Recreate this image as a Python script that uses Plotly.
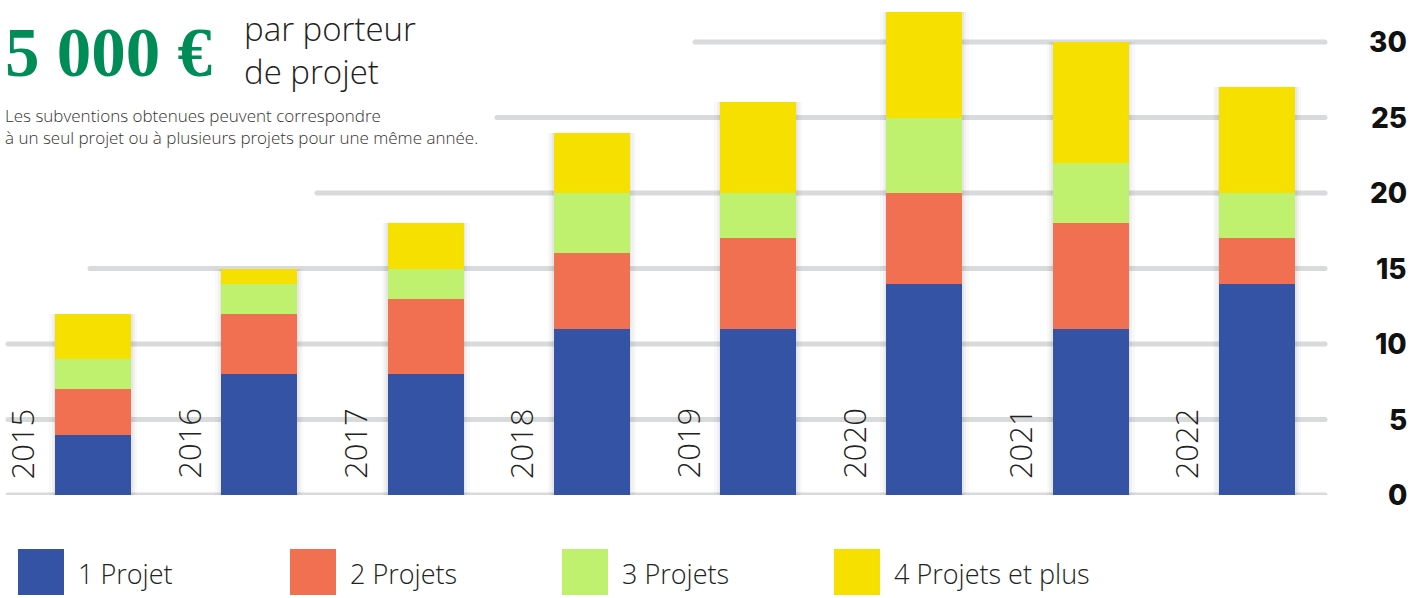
import plotly.graph_objects as go

# ---- data ----
years = ["2015", "2016", "2017", "2018", "2019", "2020", "2021", "2022"]
series_names = ["1 Projet", "2 Projets", "3 Projets", "4 Projets et plus"]
one_project = [4, 8, 8, 11, 11, 14, 11, 14]
two_projects = [3, 4, 5, 5, 6, 6, 7, 3]
three_projects = [2, 2, 2, 4, 3, 5, 4, 3]
four_plus = [3, 1, 3, 4, 6, 7, 8, 7]
y_ticks = [0, 5, 10, 15, 20, 25, 30]

colors = ["#3453a5", "#f27052", "#bff06e", "#f5e000"]
series_values = [one_project, two_projects, three_projects, four_plus]

W, H = 1424, 598
X0_PX, X1_PX = 9.85, 1340.0      # plot area horizontal extent (px)
Y_ZERO_PX = 495.0                 # pixel row of value 0
PX_PER_UNIT = 15.1
BODY_FONT = "Open Sans"


def px_x(px):
    return px / W


def px_y(px):
    return 1 - px / H


totals = [sum(v) for v in zip(*series_values)]
xpos = list(range(len(years)))

fig = go.Figure()

# soft shadow behind each stacked bar
for w, a in [(0.53, 0.03), (0.50, 0.045), (0.475, 0.06)]:
    fig.add_trace(go.Bar(
        x=xpos, y=totals, width=w,
        marker=dict(color=f"rgba(60,60,60,{a})", line=dict(width=0)),
        showlegend=False, hoverinfo="skip",
    ))

# stacked segments (overlay mode with explicit bases)
base = [0] * len(years)
for name, vals, col in zip(series_names, series_values, colors):
    fig.add_trace(go.Bar(
        x=xpos, y=vals, base=list(base), name=name, width=0.457,
        marker=dict(color=col, line=dict(width=0)),
        showlegend=False,
    ))
    base = [b + v for b, v in zip(base, vals)]

y_top = Y_ZERO_PX / PX_PER_UNIT
fig.update_layout(
    width=W, height=H,
    margin=dict(l=0, r=0, t=0, b=0),
    paper_bgcolor="white", plot_bgcolor="rgba(0,0,0,0)",
    barmode="overlay",
    bargap=0,
    xaxis=dict(domain=[px_x(X0_PX), px_x(X1_PX)], range=[-0.5, 7.5],
               visible=False, fixedrange=True),
    yaxis=dict(domain=[px_y(Y_ZERO_PX), 1.0], range=[0, y_top],
               visible=False, showgrid=False),
    font=dict(family=BODY_FONT, color="#222"),
)

shapes = []
annotations = []

# staggered horizontal gridlines with rounded ends
grid_start_px = {0: 8, 5: 8, 10: 8, 15: 90, 20: 317, 25: 497, 30: 695}
grid_end_px = 1325
for t in y_ticks:
    shapes.append(dict(
        type="line", layer="below", xref="paper", yref="y",
        x0=px_x(grid_start_px[t]), x1=px_x(grid_end_px), y0=t, y1=t,
        line=dict(color="#d9dadb", width=5),
    ))
    for end in (grid_start_px[t], grid_end_px):
        shapes.append(dict(
            type="circle", layer="below", xref="paper", yref="y",
            xsizemode="pixel", ysizemode="pixel",
            xanchor=px_x(end), yanchor=t,
            x0=-2.5, x1=2.5, y0=-2.5, y1=2.5,
            fillcolor="#d9dadb", line=dict(width=0),
        ))
    annotations.append(dict(
        xref="paper", yref="y", x=px_x(1409), y=t, xanchor="right",
        yanchor="middle", showarrow=False, text=str(t),
        font=dict(family="Inter", size=28, color="#111", weight=800),
    ))

# year labels written vertically beside each bar
for i, yr in enumerate(years):
    annotations.append(dict(
        xref="x", yref="y", x=i, y=0, xshift=-71, yshift=14,
        xanchor="center", yanchor="bottom", textangle=-90,
        showarrow=False, text=yr,
        font=dict(family=BODY_FONT, size=31, color="#222", weight=300),
    ))

# headline
annotations += [
    dict(xref="paper", yref="paper", x=px_x(3), y=px_y(53), xanchor="left",
         yanchor="middle", showarrow=False, text="<b>5 000 €</b>",
         font=dict(family="Liberation Serif", size=69, color="#008c57")),
    dict(xref="paper", yref="paper", x=px_x(242), y=px_y(50), xanchor="left",
         yanchor="middle", showarrow=False, align="left",
         text="par porteur<br>de projet",
         font=dict(family=BODY_FONT, size=33, color="#222", weight=300)),
    dict(xref="paper", yref="paper", x=px_x(3), y=px_y(127), xanchor="left",
         yanchor="middle", showarrow=False, align="left",
         text="Les subventions obtenues peuvent correspondre<br>"
              "à un seul projet ou à plusieurs projets pour une même année.",
         font=dict(family=BODY_FONT, size=17, color="#333", weight=300)),
]

# legend drawn as large colour squares
legend_x_px = [18, 290, 562, 834]
for name, col, lx in zip(series_names, colors, legend_x_px):
    shapes.append(dict(
        type="rect", xref="paper", yref="paper",
        x0=px_x(lx), x1=px_x(lx + 46), y0=px_y(595), y1=px_y(549),
        fillcolor=col, line=dict(width=0),
    ))
    annotations.append(dict(
        xref="paper", yref="paper", x=px_x(lx + 58), y=px_y(573),
        xanchor="left", yanchor="middle", showarrow=False, text=name,
        font=dict(family=BODY_FONT, size=27, color="#222", weight=300),
    ))

fig.update_layout(shapes=shapes, annotations=annotations)
fig.write_html("out.html")
